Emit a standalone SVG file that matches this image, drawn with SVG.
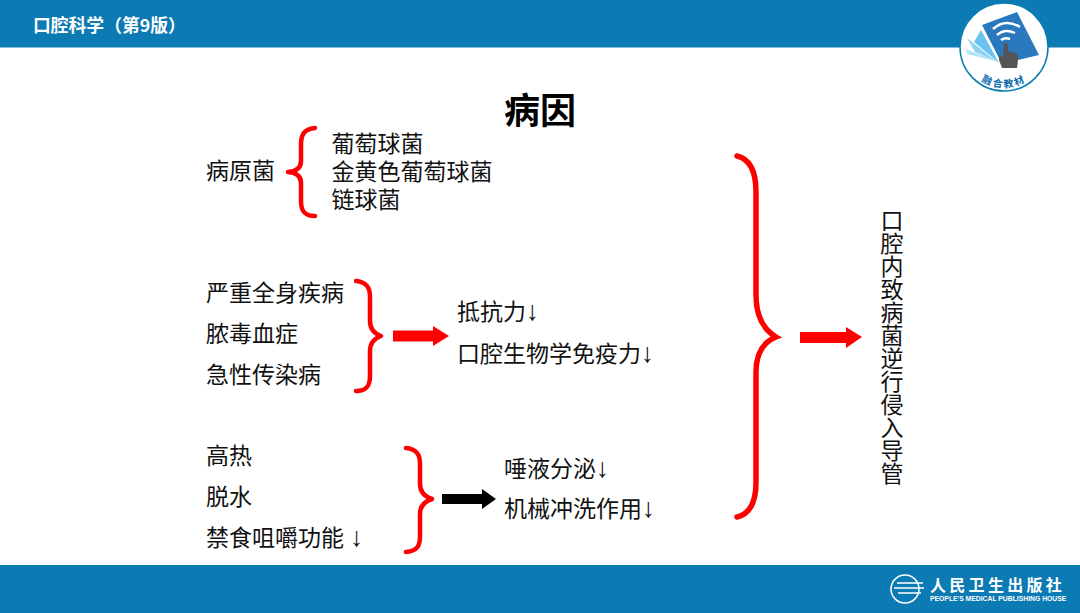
<svg xmlns="http://www.w3.org/2000/svg" width="1080" height="613" viewBox="0 0 1080 613">
<style>
text{font-family:"Noto Sans CJK SC","Liberation Sans",sans-serif;fill:#111}
.t{font-size:23px;font-weight:400}
.a{font-family:"Liberation Mono",monospace;font-size:27px}
.b{fill:none;stroke:#f00;stroke-width:4.5;stroke-linecap:round;stroke-linejoin:round}
.B{fill:none;stroke:#f00;stroke-width:5.5;stroke-linecap:round}
</style>
<defs><path id="logoArc" d="M966 62A41 41 0 0 0 1042 62"/></defs>
<rect width="1080" height="613" fill="#fff"/>
<g id="header"><rect width="1080" height="47.500" fill="#0c7bb3"/>
<text x="33" y="32" style="font-size:17.800px;font-weight:700;fill:#fff">口腔科学（第9版）</text></g>
<g id="footer"><rect y="565" width="1080" height="48" fill="#0c7bb3"/>
<g fill="none" stroke="#fff"><circle cx="905" cy="589" r="14" stroke-width="1.500"/><path d="M897 583h26M894 588h30M898 593h23" stroke-width="1.500"/></g>
<text x="930" y="591" style="font-size:16px;font-weight:700;fill:#fff;letter-spacing:3.300px">人民卫生出版社</text>
<text x="930" y="601" style="font-size:6.800px;font-weight:700;fill:#fff;font-family:'Liberation Sans',sans-serif">PEOPLE'S MEDICAL PUBLISHING HOUSE</text></g>
<g id="logo">
<circle cx="1004" cy="47" r="44" fill="#fff" stroke="#0c7bb3" stroke-width="1.500"/>
<path d="M982 25L1017 12L1039 55L1002 64Z" fill="#2a78bd"/>
<path d="M981 30L999 63L974 42Z" fill="#6cc2ee"/>
<path d="M967 38L997 62L975 52Z" fill="#8fd3f4"/>
<path d="M995 61L967 54L966 49Z" fill="#b4e2f8"/>
<path d="M993 29Q1005 18 1020 27M997 35Q1005 28 1015 33M1001 40Q1005 37 1010 39" fill="none" stroke="#fff" stroke-width="2.500"/>
<path d="M1004 43Q1007 42 1008 46V51L1017 54Q1019 56 1017 68H1002L999 60L999 55L1003 57Z" fill="#555"/>
<text style="font-size:10px;font-weight:700;fill:#0c6ba8;letter-spacing:2px"><textPath href="#logoArc" startOffset="50%" text-anchor="middle">融合教材</textPath></text>
</g>
<text id="title" x="540" y="124" text-anchor="middle" style="font-size:36px;font-weight:700;fill:#000">病因</text>
<g id="connectors">
<path class="b" d="M315 128C303 129 301 136 301 145V161Q301 171 288 172Q301 173 301 183V201C301 209 303 216 315 216"/>
<path class="b" d="M356 281C368 282 370 289 370 297V321Q370 332 381 336Q370 340 370 351V376C370 384 368 391 356 391"/>
<path class="b" d="M406 448C418 449 420 456 420 464V484Q420 495 432 499Q420 503 420 514V536C420 545 418 551 406 552"/>
<path class="B" d="M737 156C750 159 756 172 756 192V295Q756 325 776 337Q756 345 756 372V482C756 502 750 514 737 517"/>
<path d="M393 330.500H433V326L449 336L433 346V341.500H393Z" fill="#f00"/>
<path d="M442 494H482V489L496 499L482 509V504H442Z" fill="#000"/>
<path d="M800 332H846V327L862 337L846 348V343H800Z" fill="#f00"/>
</g>
<g id="n1"><text class="t" x="206" y="179">病原菌</text></g>
<g id="n2"><text class="t"><tspan x="331.500" y="152">葡萄球菌</tspan><tspan x="331.500" y="180">金黄色葡萄球菌</tspan><tspan x="331.500" y="208">链球菌</tspan></text></g>
<g id="n3"><text class="t" x="206" y="301">严重全身疾病</text><text class="t" x="206" y="342">脓毒血症</text><text class="t" x="206" y="383">急性传染病</text></g>
<g id="n4"><text class="t" x="457" y="320">抵抗力<tspan class="a" dx="-2">↓</tspan></text><text class="t" x="457" y="362">口腔生物学免疫力<tspan class="a" dx="-2">↓</tspan></text></g>
<g id="n5"><text class="t" x="206" y="464">高热</text><text class="t" x="206" y="505">脱水</text><text class="t" x="206" y="546">禁食咀嚼功能 <tspan class="a" dx="-1">↓</tspan></text></g>
<g id="n6"><text class="t" x="504" y="477">唾液分泌<tspan class="a" dx="-2">↓</tspan></text><text class="t" x="504" y="517">机械冲洗作用<tspan class="a" dx="-2">↓</tspan></text></g>
<g id="n7"><text class="t" x="892" y="209" style="writing-mode:vertical-rl">口腔内致病菌逆行侵入导管</text></g>
</svg>
